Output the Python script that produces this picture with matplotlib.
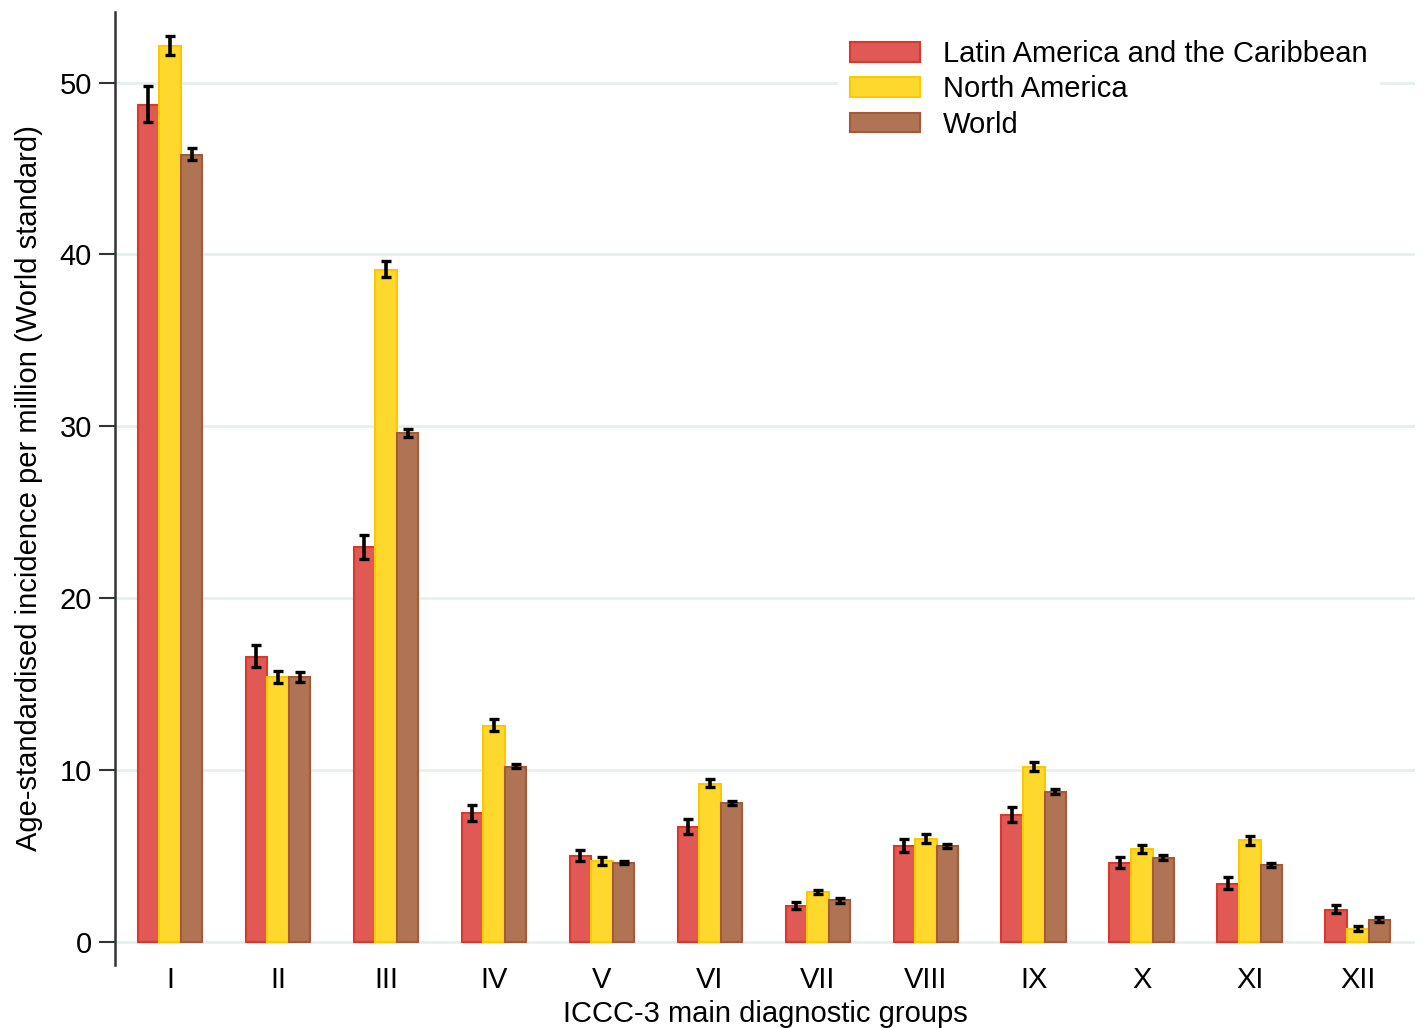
import matplotlib.pyplot as plt
import numpy as np

plt.rcParams['font.family'] = ['Liberation Sans', 'DejaVu Sans']

groups = ['I', 'II', 'III', 'IV', 'V', 'VI', 'VII', 'VIII', 'IX', 'X', 'XI', 'XII']
regions = ['Latin America and the Caribbean', 'North America', 'World']

# rates with lower / upper 95% limits
lac = [48.7, 16.6, 22.97, 7.52, 5.0, 6.67, 2.11, 5.6, 7.4, 4.59, 3.39, 1.88]
lac_lo = [47.7, 16.0, 22.3, 7.05, 4.73, 6.28, 1.9, 5.25, 6.98, 4.28, 3.1, 1.7]
lac_hi = [49.8, 17.3, 23.7, 7.98, 5.35, 7.15, 2.34, 5.97, 7.85, 4.96, 3.76, 2.17]

nam = [52.15, 15.4, 39.1, 12.58, 4.71, 9.2, 2.89, 5.99, 10.19, 5.38, 5.91, 0.78]
nam_lo = [51.6, 15.05, 38.7, 12.27, 4.48, 8.99, 2.77, 5.77, 9.96, 5.15, 5.66, 0.66]
nam_hi = [52.7, 15.75, 39.6, 12.95, 4.92, 9.46, 3.04, 6.26, 10.47, 5.66, 6.18, 0.91]

world = [45.76, 15.4, 29.6, 10.19, 4.57, 8.1, 2.42, 5.58, 8.72, 4.88, 4.48, 1.3]
world_lo = [45.5, 15.1, 29.4, 10.1, 4.51, 7.95, 2.27, 5.47, 8.58, 4.75, 4.36, 1.16]
world_hi = [46.2, 15.7, 29.85, 10.33, 4.73, 8.2, 2.58, 5.72, 8.87, 5.04, 4.61, 1.45]

fills = ['#e05954', '#ffd82e', '#b07454']
edges = ['#d8392f', '#fcc900', '#a45a38']

fig = plt.figure(figsize=(14.25, 10.28), dpi=100)
ax = fig.add_axes([0.0807, 0.0613, 0.9123, 0.927])

x = np.arange(len(groups))
w = 0.2
series = [(lac, lac_lo, lac_hi), (nam, nam_lo, nam_hi), (world, world_lo, world_hi)]
for i, (vals, lo, hi) in enumerate(series):
    xs = x + (i - 1) * w
    vals = np.array(vals)
    yerr = [vals - np.array(lo), np.array(hi) - vals]
    ax.bar(xs, vals, width=w, color=fills[i], edgecolor=edges[i], linewidth=1.5,
           label=regions[i], zorder=2)
    ax.errorbar(xs, vals, yerr=yerr, fmt='none', ecolor='black', elinewidth=2.6,
                capsize=3.5, capthick=2.4, zorder=3)

ax.set_xlim(-0.51, 11.53)
ax.set_ylim(-1.34, 54.1)
ax.set_yticks([0, 10, 20, 30, 40, 50])
ax.set_xticks(x)
ax.set_xticklabels(groups)
ax.tick_params(axis='x', length=0, labelsize=21, pad=1)
ax.tick_params(axis='y', length=11.5, width=1.5, labelsize=21, pad=5, color='#333333')
ax.grid(axis='y', color='#e6eff0', linewidth=2, zorder=0)
ax.set_axisbelow(True)

for s in ['top', 'right', 'bottom']:
    ax.spines[s].set_visible(False)
ax.spines['left'].set_linewidth(1.8)
ax.spines['left'].set_color('#333333')

ax.set_xlabel('ICCC-3 main diagnostic groups', fontsize=21, labelpad=4)
ax.set_ylabel('Age-standardised incidence per million (World standard)', fontsize=21, labelpad=12)

leg = ax.legend(loc='upper right', bbox_to_anchor=(0.984, 0.998), fontsize=21,
                frameon=True, facecolor='white', edgecolor='none', framealpha=1,
                handlelength=2.4, handleheight=0.65, handletextpad=0.8,
                labelspacing=0.25, borderpad=0.4, fancybox=False)

fig.savefig('out.png', dpi=100)
